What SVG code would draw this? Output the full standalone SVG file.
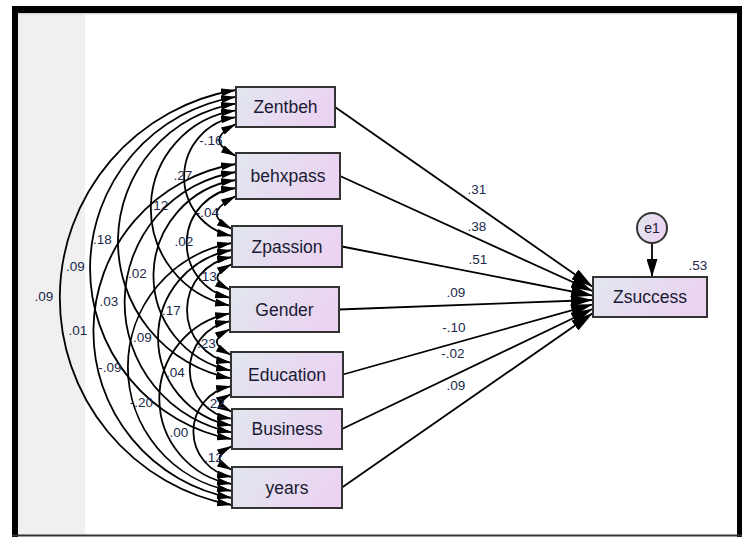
<svg xmlns="http://www.w3.org/2000/svg" width="742" height="537" viewBox="0 0 742 537">
<style>
.box{stroke:#333;stroke-width:2;fill:url(#g)}
.lbl{font-family:"Liberation Sans",Arial,sans-serif;font-size:17.5px;fill:#1a1a33;text-anchor:middle}
.num{font-family:"Liberation Sans",Arial,sans-serif;font-size:13.5px;fill:#20294a;text-anchor:middle}
.cov{fill:none;stroke:#000;stroke-width:1.8;marker-start:url(#ca);marker-end:url(#ca)}
.path{fill:none;stroke:#000;stroke-width:1.8;marker-end:url(#pa)}
</style>
<defs>
<linearGradient id="g" x1="0" y1="0" x2="1" y2="0.3">
<stop offset="0" stop-color="#e1e7ee"/>
<stop offset="1" stop-color="#ebd3f2"/>
</linearGradient>
<marker id="ca" markerUnits="userSpaceOnUse" viewBox="0 0 15 8" refX="15" refY="4" markerWidth="15" markerHeight="8" orient="auto-start-reverse">
<path d="M0,0 L15,4 L0,8 z" fill="#000"/>
</marker>
<marker id="pa" markerUnits="userSpaceOnUse" viewBox="0 0 22 12" refX="22" refY="6" markerWidth="22" markerHeight="12" orient="auto">
<path d="M0,0 L22,6 L0,12 z" fill="#000"/>
</marker>
<marker id="ea" markerUnits="userSpaceOnUse" viewBox="0 0 11 18" refX="5.5" refY="18" markerWidth="11" markerHeight="18" orient="0">
<path d="M0,0 L5.5,18 L11,0 z" fill="#000"/>
</marker>
</defs>
<rect x="0" y="0" width="742" height="537" fill="#fff"/>
<g id="frame">
<rect x="18" y="13" width="67" height="522" fill="#f0f0f0"/>
<rect x="18" y="13" width="719" height="1.5" fill="#d8d8d8"/>
<rect x="12" y="6" width="730" height="7" fill="#000"/>
<rect x="12" y="6" width="6" height="531" fill="#000"/>
<rect x="737" y="6" width="5" height="531" fill="#000"/>
<rect x="12" y="534.5" width="730" height="2" fill="#333"/>
</g>
<g id="connectors">
<path class="cov" d="M236,124 C213.6,135.8 213.6,144.2 236,156"/>
<path class="cov" d="M236,196 C212.9,208.2 208.9,216.8 232,229"/>
<path class="cov" d="M232,264 C213.8,273.6 211.8,280.4 230,290"/>
<path class="cov" d="M230,329 C211.8,338.6 212.8,345.4 231,355"/>
<path class="cov" d="M231,394 C218.4,400.7 219.4,405.3 232,412"/>
<path class="cov" d="M232,446 C215.2,454.9 215.2,461.1 232,470"/>
<path class="cov" d="M236,117.2 A60.35,60.35 0 0 0 232,236"/>
<path class="cov" d="M236,110.4 A99.1,99.1 0 0 0 230,305.6"/>
<path class="cov" d="M236,103.6 A139.5,139.5 0 0 0 231,378.4"/>
<path class="cov" d="M236,96.8 A173.8,173.8 0 0 0 232,439.2"/>
<path class="cov" d="M236,90 A210.7,210.7 0 0 0 232,505"/>
<path class="cov" d="M236,188 A55.8,55.8 0 0 0 230,297.8"/>
<path class="cov" d="M236,180 A96.8,96.8 0 0 0 231,370.6"/>
<path class="cov" d="M236,172 A132.2,132.2 0 0 0 232,432.4"/>
<path class="cov" d="M236,164 A169.5,169.5 0 0 0 232,498"/>
<path class="cov" d="M232,257 A53.7,53.7 0 0 0 231,362.8"/>
<path class="cov" d="M232,250 A89.1,89.1 0 0 0 232,425.6"/>
<path class="cov" d="M232,243 A125.9,125.9 0 0 0 232,491"/>
<path class="cov" d="M230,321.2 A49.5,49.5 0 0 0 232,418.8"/>
<path class="cov" d="M230,313.4 A86.6,86.6 0 0 0 232,484"/>
<path class="cov" d="M231,386.2 A46.1,46.1 0 0 0 232,477"/>
<path class="path" d="M335,107 L593,287"/>
<path class="path" d="M340,176 L593,291.3"/>
<path class="path" d="M342,246.5 L593,295.7"/>
<path class="path" d="M339,309.5 L593,300"/>
<path class="path" d="M343,374.5 L593,304.3"/>
<path class="path" d="M342,429 L593,308.7"/>
<path class="path" d="M342,487.5 L593,313"/>
<path d="M652,243 L652,277" stroke="#000" stroke-width="1.8" marker-end="url(#ea)"/>
</g>
<g id="labels">
<text class="num" x="211" y="144.7">-.16</text>
<text class="num" x="207.5" y="216.7">-.04</text>
<text class="num" x="207.5" y="280.7">.13</text>
<text class="num" x="206.5" y="347.7">.23</text>
<text class="num" x="215.5" y="407.7">.22</text>
<text class="num" x="213.5" y="461.7">.12</text>
<text class="num" x="183" y="179.7">.27</text>
<text class="num" x="184" y="245.7">.02</text>
<text class="num" x="171.5" y="314.7">.17</text>
<text class="num" x="175.5" y="376.7">.04</text>
<text class="num" x="179" y="436.7">.00</text>
<text class="num" x="159" y="209.7">.12</text>
<text class="num" x="137.5" y="277.7">.02</text>
<text class="num" x="142.5" y="341.7">.09</text>
<text class="num" x="141.5" y="406.7">-.20</text>
<text class="num" x="102.5" y="243.7">.18</text>
<text class="num" x="109" y="305.7">.03</text>
<text class="num" x="110" y="371.7">-.09</text>
<text class="num" x="75.5" y="270.7">.09</text>
<text class="num" x="78" y="334.7">.01</text>
<text class="num" x="44" y="300.7">.09</text>
<text class="num" x="477" y="193.7">.31</text>
<text class="num" x="477" y="230.7">.38</text>
<text class="num" x="478" y="263.7">.51</text>
<text class="num" x="456" y="296.7">.09</text>
<text class="num" x="454" y="332.2">-.10</text>
<text class="num" x="453" y="357.7">-.02</text>
<text class="num" x="456" y="389.7">.09</text>
<text class="num" x="698" y="269.7">.53</text>
</g>
<g id="Zentbeh"><rect class="box" x="236" y="87" width="99" height="40"/><text class="lbl" x="285.5" y="113">Zentbeh</text></g>
<g id="behxpass"><rect class="box" x="236" y="153" width="104" height="46"/><text class="lbl" x="288" y="182">behxpass</text></g>
<g id="Zpassion"><rect class="box" x="232" y="226" width="110" height="41"/><text class="lbl" x="287" y="252.5">Zpassion</text></g>
<g id="Gender"><rect class="box" x="230" y="287" width="109" height="45"/><text class="lbl" x="284.5" y="315.5">Gender</text></g>
<g id="Education"><rect class="box" x="231" y="352" width="112" height="45"/><text class="lbl" x="287" y="380.5">Education</text></g>
<g id="Business"><rect class="box" x="232" y="409" width="110" height="40"/><text class="lbl" x="287" y="435">Business</text></g>
<g id="years"><rect class="box" x="232" y="467" width="110" height="41"/><text class="lbl" x="287" y="493.5">years</text></g>
<g id="Zsuccess"><rect class="box" x="593" y="277" width="114" height="40"/><text class="lbl" x="650" y="303">Zsuccess</text></g>
<g id="e1"><circle class="box" cx="652" cy="228" r="15"/><text class="lbl" style="font-size:14px" x="652" y="233">e1</text></g>
</svg>
